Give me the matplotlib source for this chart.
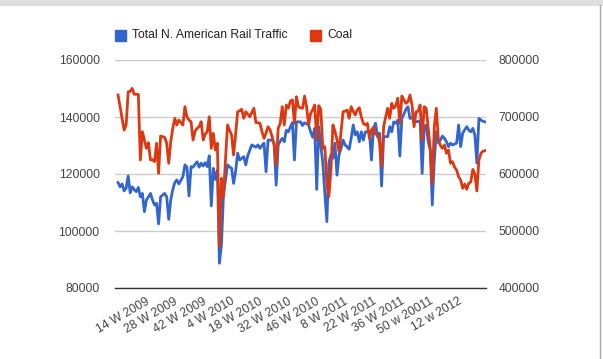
import matplotlib
matplotlib.use("Agg")
import matplotlib.pyplot as plt
import numpy as np
from matplotlib.patches import Rectangle
from matplotlib.lines import Line2D

# weekly carloads, 182 weeks
rail_traffic = [
    117000, 115500, 116500, 114100, 115000, 119300, 113400, 115500, 114500, 113800,
    115300, 112000, 113200, 106800, 110900, 112000, 113200, 110900, 109100, 109700,
    102500, 112000, 112600, 113200, 112000, 104100, 110900, 114500, 117000, 117900,
    116500, 117800, 119100, 123200, 122400, 112300, 122600, 122400, 123400, 124300,
    122400, 123800, 122800, 124000, 122600, 126400, 108800, 122000, 118100, 121400,
    88700, 95100, 112600, 118000, 123200, 122500, 122000, 116700, 121000, 127300,
    124900, 125500, 126100, 123200, 126500, 128400, 130200, 129800, 129400, 130200,
    129000, 130000, 130800, 120800, 131900, 131900, 131900, 130800, 116100, 130200,
    131500, 132500, 131300, 135400, 134800, 136500, 138000, 124900, 138300, 138300,
    138300, 137000, 138000, 137600, 137200, 134800, 132900, 136000, 114600, 136600,
    130000, 124000, 113200, 103300, 124000, 126700, 125500, 130800, 119600, 126700,
    129000, 131900, 130200, 129500, 128700, 132500, 137200, 133700, 134800, 131300,
    134800, 131900, 134800, 134800, 134800, 124900, 136000, 137800, 133100, 134300,
    115800, 133100, 133100, 133100, 136600, 134800, 138300, 137800, 138900, 126300,
    139500, 141000, 142700, 143600, 139500, 139900, 138300, 138300, 138500, 138600,
    120200, 136600, 137200, 131300, 128400, 109100, 124900, 134800, 131000, 131900,
    133300, 132500, 131300, 129600, 130800, 130200, 130500, 130800, 137200, 129600,
    134300, 135500, 136600, 135400, 134800, 136000, 133700, 123800, 139500, 138900,
    138500, 138300,
]

coal = [
    738600, 718000, 697000, 677200, 686000, 744400, 745000, 750300, 739800, 739800,
    739800, 624600, 674200, 659600, 645100, 654900, 624600, 625000, 621600, 653900,
    601200, 666700, 665500, 664300, 653900, 618800, 656800, 680000, 697700, 686000,
    694700, 690000, 686000, 718100, 700000, 694700, 691800, 659600, 675000, 680200,
    683000, 691800, 659600, 670000, 674200, 700500, 645100, 671400, 642100, 653900,
    472500, 592500, 560200, 625000, 686000, 677000, 668400, 633300, 670000, 709300,
    711000, 713500, 697700, 709300, 705000, 700500, 708000, 715300, 690000, 690000,
    688900, 674200, 662600, 672000, 683000, 677200, 665600, 650000, 615800, 680000,
    688900, 718100, 686000, 721100, 715300, 728000, 730000, 688900, 735600, 718100,
    716000, 715300, 736800, 718100, 686000, 706500, 712300, 721100, 659600, 719900,
    713500, 645100, 648000, 583700, 560200, 607000, 686000, 675000, 660000, 639100,
    674200, 709300, 710000, 712300, 697700, 718100, 710000, 703500, 712300, 716300,
    700000, 688900, 686000, 688900, 662600, 677200, 682000, 670000, 668400, 656800,
    614000, 683000, 700000, 715300, 697700, 724000, 715300, 720000, 732800, 688900,
    736800, 730000, 724000, 726800, 738600, 721100, 683000, 709300, 710000, 721100,
    659600, 718100, 715300, 680000, 645100, 583700, 683000, 715300, 659600, 650000,
    645100, 650900, 636300, 642100, 618800, 621600, 612000, 607000, 595000, 589500,
    574900, 582400, 573200, 583700, 586000, 608000, 600000, 570200, 624600, 636300,
    640000, 640900,
]

tick_weeks = [15, 29, 43, 57, 71, 85, 99, 113, 127, 141, 155, 169]
tick_labels = ["14 W 2009", "28 W 2009", "42 W 2009", "4 W 2010", "18 W 2010",
               "32 W 2010", "46 W 2010", "8 W 2011", "22 W 2011", "36 W 2011",
               "50 w 20011", "12 w 2012"]

left_ticks = [80000, 100000, 120000, 140000, 160000]
right_ticks = [400000, 500000, 600000, 700000, 800000]

BLUE = "#3366cc"
RED = "#dc3912"
TXT = "#444444"

plt.rcParams["font.family"] = ["Liberation Sans", "DejaVu Sans"]
FS = 8.7

W, H = 603, 359
fig = plt.figure(figsize=(W / 100, H / 100), dpi=100)
fig.patch.set_facecolor("white")

ax = fig.add_axes([115 / W, 1 - 288 / H, (486 - 115) / W, (288 - 60) / H])
ax2 = ax.twinx()

x = np.arange(len(rail_traffic))
ax.plot(x, rail_traffic, color=BLUE, lw=2, solid_joinstyle="round", zorder=3)
ax2.plot(x, coal, color=RED, lw=2, solid_joinstyle="round", zorder=3)

ax.set_xlim(-1.5, len(rail_traffic) - 0.5)
ax.set_ylim(80000, 160000)
ax2.set_ylim(400000, 800000)
ax.set_yticks(left_ticks)
ax.set_yticklabels([str(v) for v in left_ticks])
ax2.set_yticks(right_ticks)
ax2.set_yticklabels([str(v) for v in right_ticks])

ax.set_xticks(tick_weeks)
ax.set_xticklabels(tick_labels, rotation=30, ha="right", va="center",
                   rotation_mode="anchor")

ax.grid(axis="y", color="#cccccc", lw=1)
ax.set_axisbelow(True)
for a in (ax, ax2):
    for s in a.spines.values():
        s.set_visible(False)
ax.spines["bottom"].set_visible(True)
ax.spines["bottom"].set_color("#333333")
ax.spines["bottom"].set_linewidth(1)
ax.spines["bottom"].set_zorder(5)

ax.tick_params(axis="y", length=0, pad=11, labelsize=FS, labelcolor=TXT)
ax2.tick_params(axis="y", length=0, pad=9, labelsize=FS, labelcolor=TXT)
ax.tick_params(axis="x", length=0, pad=9, labelsize=FS, labelcolor=TXT)

# legend
def px(xp, yp):
    return xp / W, 1 - yp / H

for sx, label, col in [(115, "Total N. American Rail Traffic", BLUE), (310, "Coal", RED)]:
    fig.patches.append(Rectangle(px(sx, 40.5), 11 / W, 11 / H, color=col,
                                 transform=fig.transFigure))
    fig.text(*px(sx + 17, 35), label, fontsize=FS, color="#222222", va="center")

# spreadsheet surroundings
fig.patches.append(Rectangle(px(0, 5), 1, 5 / H, color="#dedede",
                             transform=fig.transFigure))
fig.add_artist(Line2D([600 / W, 600 / W], [0, 1 - 5 / H], color="#a8a8a8", lw=1,
                      transform=fig.transFigure))

fig.savefig("out.png", dpi=100)
